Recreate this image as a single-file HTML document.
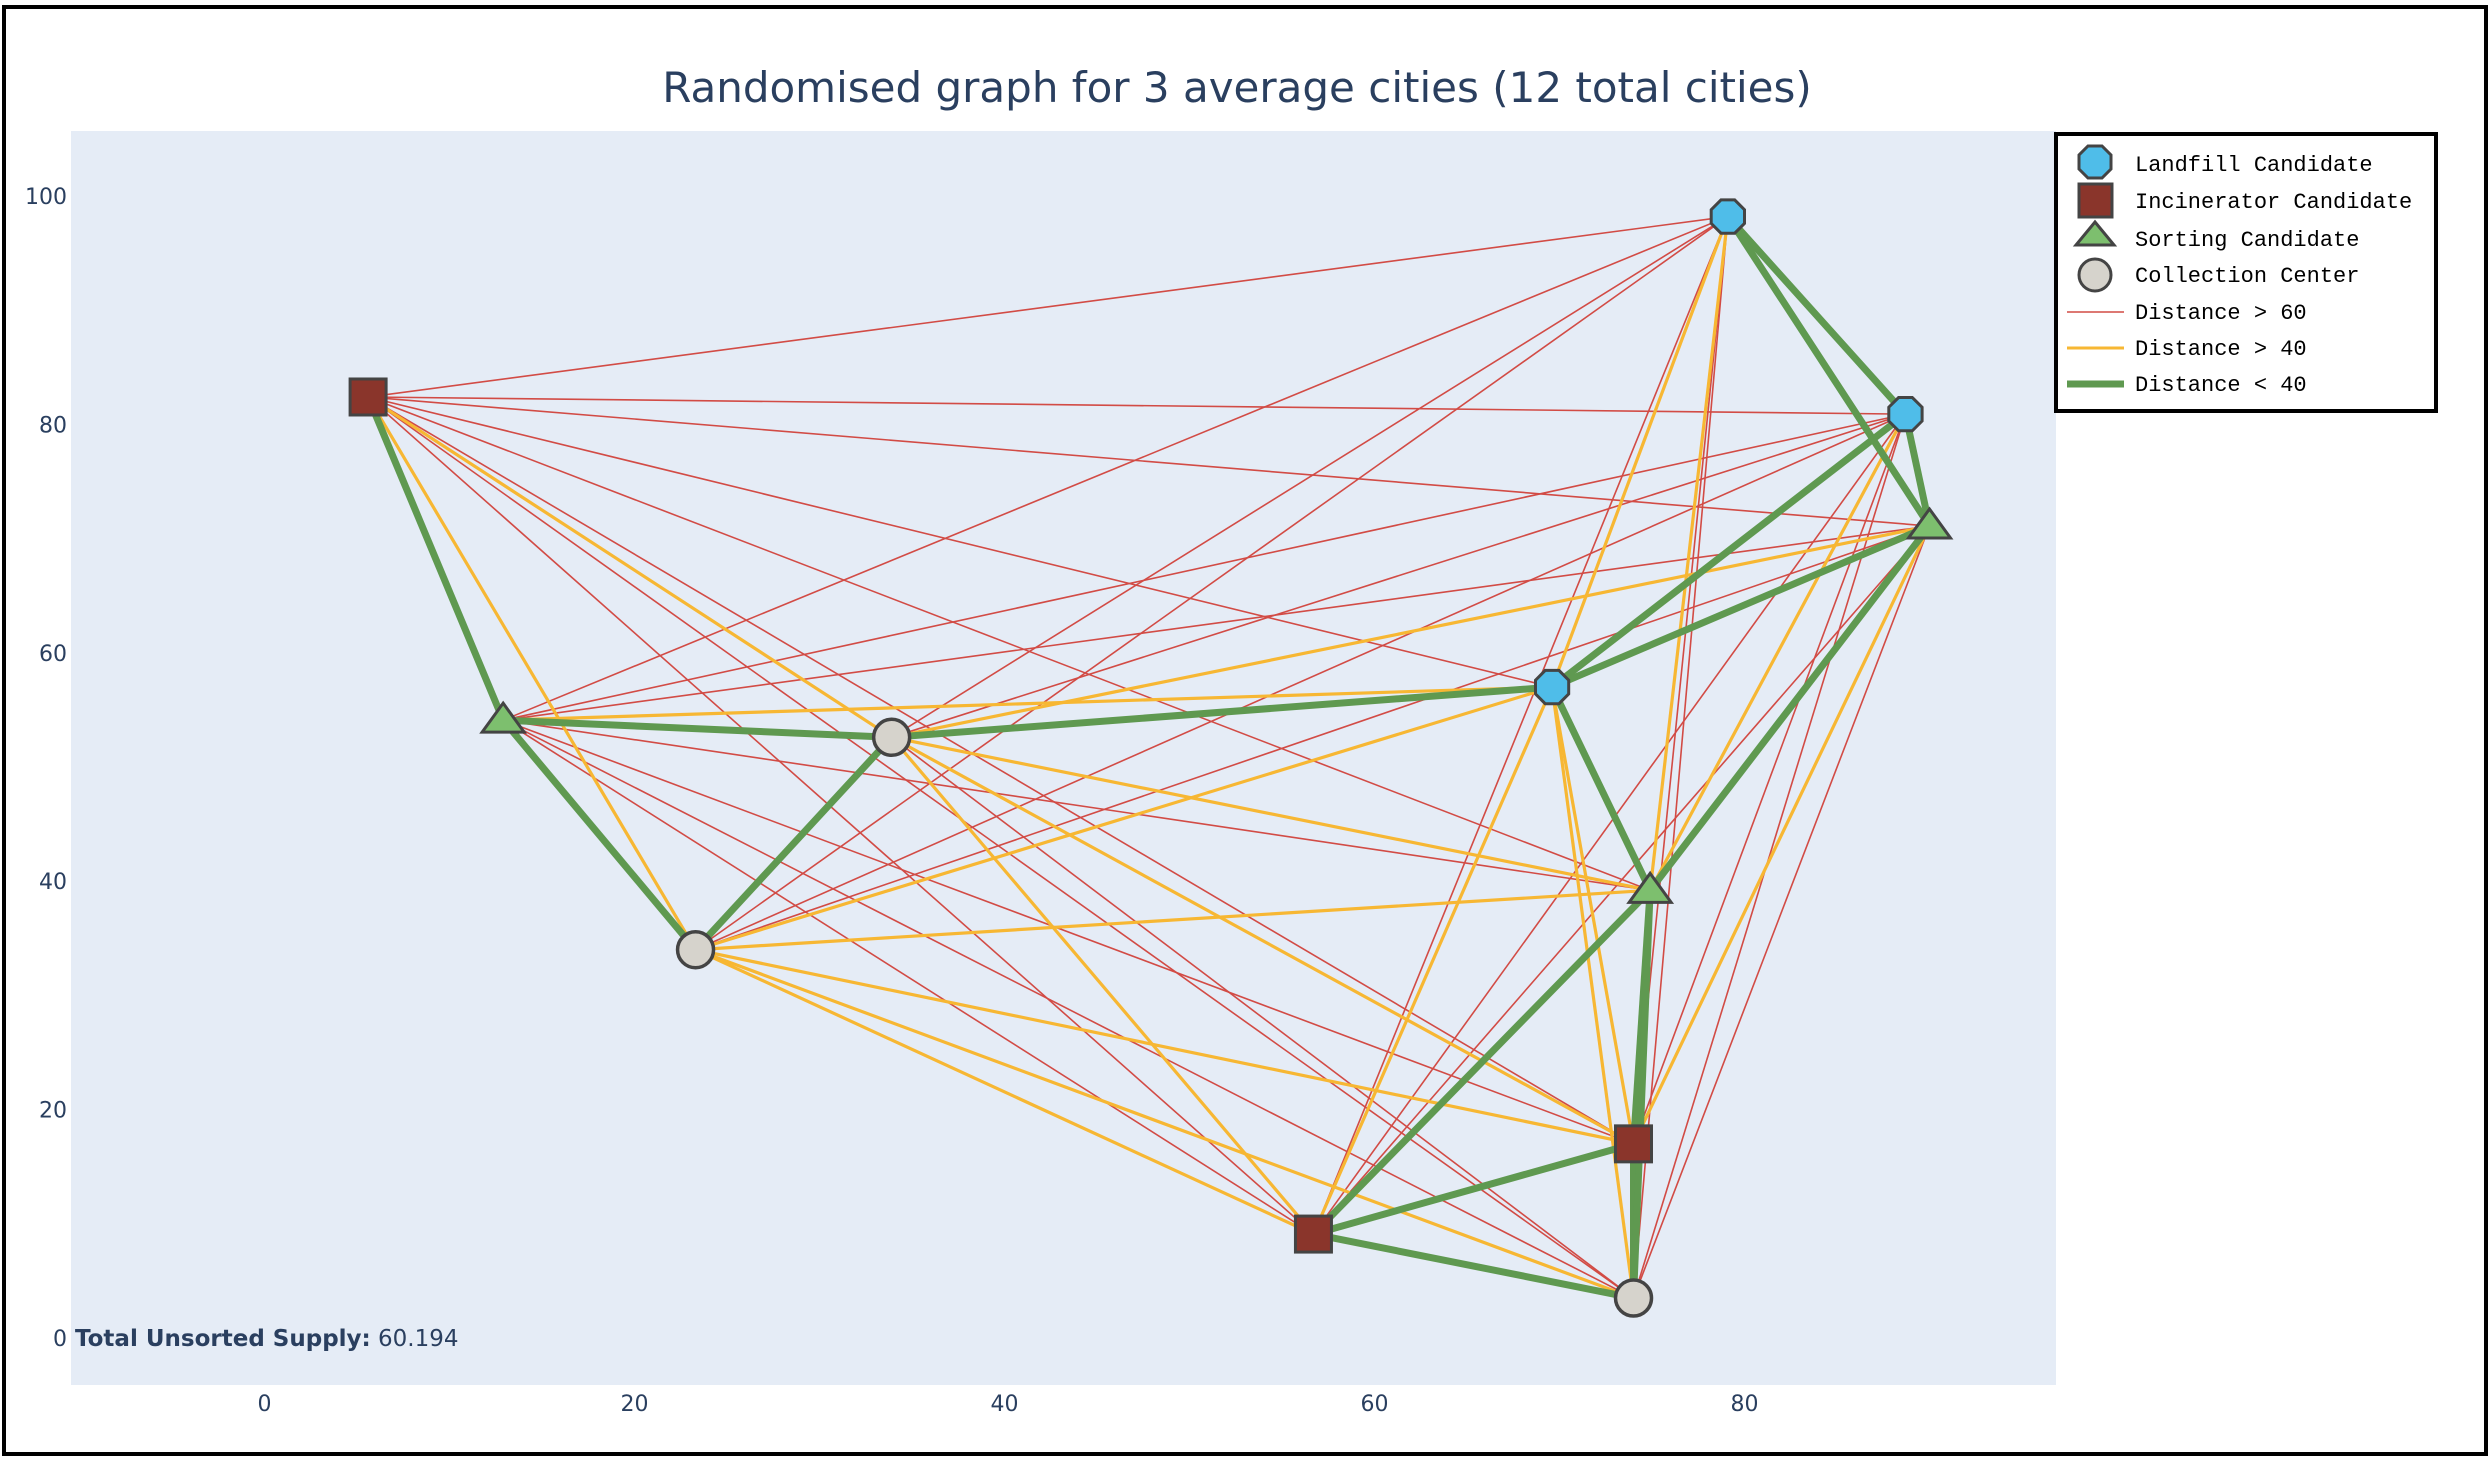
<!DOCTYPE html>
<html><head><meta charset="utf-8"><style>
html,body{margin:0;padding:0;background:#fff;}
svg{display:block;}
</style></head><body>
<svg id="chart" width="2492" height="1460" viewBox="0 0 2492 1460" xmlns="http://www.w3.org/2000/svg">
<rect x="4" y="7" width="2482" height="1447" fill="#fff" stroke="#000" stroke-width="4"/>
<rect x="71" y="131" width="1985" height="1254" fill="#e5ecf6"/>
<text x="1237" y="102" text-anchor="middle" font-family="'DejaVu Sans', sans-serif" font-size="42" fill="#2a3f5f">Randomised graph for 3 average cities (12 total cities)</text>
<g id="xticks"></g>
<g id="yticks"></g>
<g id="edges"></g>
<g id="nodes"></g>
<text x="75" y="1346" font-family="'DejaVu Sans', sans-serif" font-size="23" fill="#2a3f5f"><tspan font-weight="bold">Total Unsorted Supply:</tspan> 60.194</text>
<g>
<rect x="2056" y="134" width="380" height="277" fill="#fff" stroke="#000" stroke-width="4"/>
<g font-family="'Liberation Mono', monospace" font-size="22" fill="#000">
<polygon points="2088,146 2102,146 2111,155 2111,169 2102,178 2088,178 2079,169 2079,155" fill="#4fbde9" stroke="#444" stroke-width="3"/>
<text x="2135" y="171">Landfill Candidate</text>
<rect x="2079" y="184" width="33" height="33" fill="#8a352b" stroke="#444" stroke-width="3"/>
<text x="2135" y="208">Incinerator Candidate</text>
<polygon points="2095,222 2114,245 2076,245" fill="#7dbf6e" stroke="#444" stroke-width="3"/>
<text x="2135" y="246">Sorting Candidate</text>
<circle cx="2095" cy="275" r="16" fill="#d6d3cc" stroke="#444" stroke-width="3"/>
<text x="2135" y="282">Collection Center</text>
<line x1="2067" y1="312" x2="2124" y2="312" stroke="#d24b45" stroke-width="1.5"/>
<text x="2135" y="319">Distance &gt; 60</text>
<line x1="2067" y1="348" x2="2124" y2="348" stroke="#f7b733" stroke-width="3"/>
<text x="2135" y="355">Distance &gt; 40</text>
<line x1="2067" y1="384" x2="2124" y2="384" stroke="#5f9950" stroke-width="7"/>
<text x="2135" y="391">Distance &lt; 40</text>
</g></g>
</svg>
<script>
const xTicks = [0, 20, 40, 60, 80];
const yTicks = [0, 20, 40, 60, 80, 100];
const nodeTypes = ["landfill","landfill","landfill","incinerator","incinerator","incinerator","sorting","sorting","sorting","collection","collection","collection"];
const nodeX = [79.1, 88.7, 69.6, 5.6, 74.0, 56.7, 12.9, 90.0, 74.9, 33.9, 23.3, 74.0];
const nodeY = [98.2, 80.9, 57.0, 82.4, 17.0, 9.1, 54.1, 71.1, 39.2, 52.6, 34.0, 3.5];

const NS = "http://www.w3.org/2000/svg";
function sx(v){ return 264.5 + v * 18.5; }
function sy(v){ return 1338 - v * 11.42; }
function mk(tag, attrs, parent){ const e = document.createElementNS(NS, tag); for (const k in attrs) e.setAttribute(k, attrs[k]); parent.appendChild(e); return e; }

const xg = document.getElementById('xticks');
xTicks.forEach(v => {
  const t = mk('text', {x: sx(v), y: 1411, 'text-anchor': 'middle', 'font-family': "'DejaVu Sans', sans-serif", 'font-size': 22, fill: '#2a3f5f'}, xg);
  
  
  t.textContent = v;
});
const yg = document.getElementById('yticks');
yTicks.forEach(v => {
  const t = mk('text', {x: 67, y: sy(v) + 8, 'text-anchor': 'end', 'font-family': "'DejaVu Sans', sans-serif", 'font-size': 22, fill: '#2a3f5f'}, yg);
  
  
  t.textContent = v;
});

const eg = document.getElementById('edges');
const groups = {red: [], orange: [], green: []};
for (let i = 0; i < nodeX.length; i++) {
  for (let j = i + 1; j < nodeX.length; j++) {
    const d = Math.hypot(nodeX[i] - nodeX[j], nodeY[i] - nodeY[j]);
    const c = d > 60 ? 'red' : (d > 40 ? 'orange' : 'green');
    groups[c].push([i, j]);
  }
}
const style = {red: ['#d24b45', 1.6], orange: ['#f7b733', 3.2], green: ['#5f9950', 7]};
['red', 'orange', 'green'].forEach(c => {
  groups[c].forEach(([i, j]) => {
    const l = mk('line', {x1: sx(nodeX[i]), y1: sy(nodeY[i]), x2: sx(nodeX[j]), y2: sy(nodeY[j]), stroke: style[c][0], 'stroke-width': style[c][1]}, eg);
    
    
  });
});

const ng = document.getElementById('nodes');
nodeTypes.forEach((t, i) => {
  const cx = sx(nodeX[i]), cy = sy(nodeY[i]);
  let el;
  if (t === 'landfill') {
    const r = 18, pts = [];
    for (let k = 0; k < 8; k++) { const a = Math.PI / 8 + k * Math.PI / 4; pts.push((cx + r * Math.cos(a)).toFixed(1) + ',' + (cy + r * Math.sin(a)).toFixed(1)); }
    el = mk('polygon', {points: pts.join(' '), fill: '#4fbde9', stroke: '#444', 'stroke-width': 3}, ng);
  } else if (t === 'incinerator') {
    el = mk('rect', {x: cx - 18, y: cy - 18, width: 36, height: 36, fill: '#8a352b', stroke: '#444', 'stroke-width': 3}, ng);
  } else if (t === 'sorting') {
    el = mk('polygon', {points: `${cx},${cy-17} ${cx+21},${cy+12} ${cx-21},${cy+12}`, fill: '#7dbf6e', stroke: '#444', 'stroke-width': 3}, ng);
  } else {
    el = mk('circle', {cx: cx, cy: cy, r: 18, fill: '#d6d3cc', stroke: '#444', 'stroke-width': 3.5}, ng);
  }
  
  
});
</script>
</body></html>
